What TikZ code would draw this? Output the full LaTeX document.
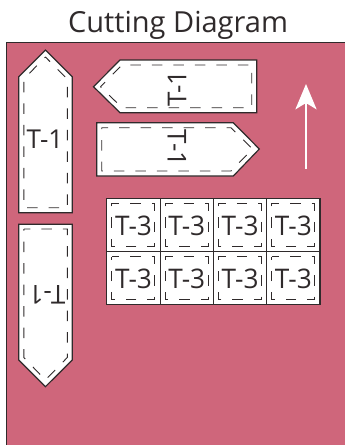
\documentclass[tikz,border=0pt]{standalone}
\usepackage{fontspec}
\setmainfont{Open Sans}
\definecolor{rosebg}{HTML}{CF667B}
\definecolor{inkline}{HTML}{2F2A2B}
\tikzset{
  x=1pt,y=-1pt,
  patch/.style={draw=inkline,fill=white,line width=1.2pt,line join=miter},
  seam/.style={draw=inkline,line width=0.9pt,dash pattern=on 10.5pt off 11pt},
  lab/.style={text=inkline,font=\fontsize{26}{26}\selectfont,inner sep=0pt},
  labthree/.style={text=inkline,font=\fontsize{27}{27}\selectfont,inner sep=0pt,xscale=0.97},
}
\newcommand{\tsquare}[2]{%
  \draw[patch] (#1,#2) rectangle ++(53.3,53.2);
  \draw[seam,dash phase=3pt] (#1+5,#2+5) -- ++(43,0) -- ++(0,43) -- ++(-43,0) -- cycle;
  \node[labthree] (t#1x#2) at (#1+26.7,#2+27) {T-3};
}
\begin{document}
\begin{tikzpicture}
\useasboundingbox (0,0) rectangle (345,445);
\fill[white] (0,0) rectangle (345,445);
\draw[fill=rosebg,draw=inkline,line width=1.2pt] (6.5,42.7) -- (346,42.7) -- (346,446) -- (6.5,446) -- cycle;
\node[text=inkline,font=\fontsize{29}{29}\selectfont,inner sep=0pt] (title) at (178,25) {Cutting Diagram};

% left upper
\draw[patch] (45.4,50) -- (72.3,76.7) -- (72.3,212.7) -- (18.8,212.7) -- (18.8,76.7) -- cycle;
\draw[seam,dash phase=4pt] (45.4,57) -- (67.3,79) -- (67.3,207.7) -- (23.8,207.7) -- (23.8,79) -- cycle;
\node[lab] (a) at (45,139.5) {T-1};

% left lower
\draw[patch] (18.8,224.3) -- (72.3,224.3) -- (72.3,360) -- (45.4,386.7) -- (18.8,360) -- cycle;
\draw[seam,dash phase=4pt] (23.8,229) -- (67.3,229) -- (67.3,357.5) -- (45.4,380) -- (23.8,357.5) -- cycle;
\node[lab,rotate=180] (b) at (47,295) {T-1};

% top right
\draw[patch] (93.5,86.7) -- (120,60) -- (256.7,60) -- (256.7,112.7) -- (120,112.7) -- cycle;
\draw[seam,dash phase=4pt] (100.5,86.7) -- (122,65) -- (251.7,65) -- (251.7,107.7) -- (122,107.7) -- cycle;
\node[lab,rotate=90] (c) at (177,88.5) {T-1};

% second right
\draw[patch] (96.7,122.7) -- (233.3,122.7) -- (259.3,149) -- (233.3,176) -- (96.7,176) -- cycle;
\draw[seam,dash phase=4pt] (101.7,127.7) -- (231,127.7) -- (252.5,149) -- (231,171) -- (101.7,171) -- cycle;
\node[lab,rotate=-90] (d) at (177,148) {T-1};

% squares
\tsquare{106.8}{198.4}
\tsquare{160.1}{198.4}
\tsquare{213.4}{198.4}
\tsquare{266.7}{198.4}
\tsquare{106.8}{251.6}
\tsquare{160.1}{251.6}
\tsquare{213.4}{251.6}
\tsquare{266.7}{251.6}

% grain arrow
\coordinate (arrowtail) at (306,168.7);
\coordinate (arrowneck) at (306,103);
\draw[white,line width=2.4pt] (arrowtail) -- (arrowneck);
\fill[white] (306,84) -- (316.7,109.5) -- (306,103) -- (295.3,109.5) -- cycle;
\end{tikzpicture}
\end{document}
